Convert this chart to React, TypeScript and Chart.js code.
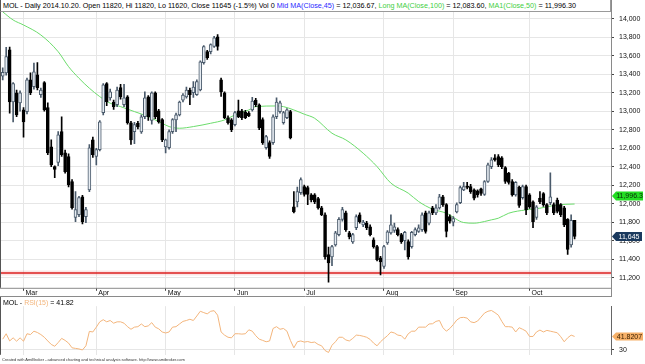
import React, { useEffect, useRef } from 'react';
import { Chart, registerables } from 'chart.js';

Chart.register(...registerables);

const FONT = '"Liberation Sans", Arial, sans-serif';

// ---- categories / ticks ----
const monthNames = ['Mar', 'Apr', 'May', 'Jun', 'Jul', 'Aug', 'Sep', 'Oct'];
const monthStartIndex = [6, 27, 47, 67, 87, 110, 130, 152];
const blankBarsRight = 10;
const priceTicks = [11200, 11400, 11600, 11800, 12000, 12200, 12400, 12600, 12800, 13000, 13200, 13400, 13600, 13800, 14000];
const rsiTicks = [30];

// ---- price series (daily OHLC) ----
const open = [
  13380, 13415, 13665, 13100, 13200, 13090, 13015, 12995, 13340, 13265,
  13395, 13180, 13310, 13040, 12615, 12400, 12445, 12780, 12550, 12510,
  12240, 11850, 11880, 12075, 11860, 12150, 12690, 12510, 12585, 12985,
  13300, 13145, 13100, 13070, 13255, 13070, 13155, 12875, 12780, 12870,
  12775, 12940, 13155, 12900, 13200, 13005, 12910, 12615, 12605, 12780,
  12906, 12960, 13120, 13155, 13230, 13200, 13180, 13230, 13525, 13645,
  13645, 13700, 13805, 13340, 13200, 12930, 12906, 12855, 13005, 13005,
  12990, 12980, 13015, 13120, 13070, 12910, 12605, 12660, 12660, 12940,
  12995, 12875, 12930, 12995, 11965, 12020, 12120, 12185, 12175, 12095,
  12095, 12055, 11955, 11880, 11450, 11425, 11555, 11665, 11830, 11900,
  11685, 11585, 11740, 11880, 11770, 11790, 11750, 11610, 11535, 11415,
  11320, 11575, 11685, 11710, 11720, 11665, 11600, 11590, 11535, 11665,
  11700, 11720, 11900, 11790, 11955, 11900, 11955, 12075, 11990, 11860,
  11800, 11910, 12010, 12150, 12190, 12185, 12150, 12140, 12160, 12100,
  12240, 12400, 12495, 12510, 12495, 12390, 12330, 12240, 12095, 12180,
  12065, 12185, 12095, 12020, 11850, 12060, 12110, 11990, 12010, 11990,
  12040, 11990, 11955, 11830, 11555, 11820,
];
const high = [
  13470, 13690, 13695, 13310, 13230, 13220, 13040, 13360, 13415, 13520,
  13525, 13250, 13320, 13090, 12690, 12410, 12780, 12940, 12580, 12540,
  12260, 12130, 12080, 12090, 11960, 12640, 12720, 12600, 12900, 13300,
  13310, 13240, 13120, 13260, 13290, 13290, 13170, 12890, 12880, 12890,
  12960, 13210, 13170, 13210, 13210, 13020, 12920, 12700, 12800, 12920,
  12980, 13110, 13190, 13260, 13250, 13320, 13340, 13545, 13710, 13660,
  13730, 13810, 13830, 13360, 13210, 12950, 12920, 13000, 13120, 13020,
  13010, 12995, 13150, 13140, 13080, 12930, 12740, 12680, 12960, 13145,
  13110, 13000, 13030, 13010, 12130, 12180, 12280, 12200, 12190, 12110,
  12110, 12070, 11970, 11900, 11530, 11550, 11700, 11850, 11960, 11920,
  11700, 11680, 11880, 11900, 11820, 11810, 11770, 11630, 11550, 11430,
  11550, 11710, 11880, 11790, 11740, 11680, 11700, 11610, 11700, 11740,
  11770, 11900, 11920, 11920, 11970, 11990, 12100, 12090, 12000, 11880,
  11860, 12010, 12190, 12230, 12230, 12210, 12160, 12150, 12170, 12250,
  12440, 12500, 12530, 12530, 12510, 12400, 12340, 12260, 12240, 12190,
  12200, 12200, 12110, 12030, 11980, 12130, 12120, 12000, 12335, 12010,
  12060, 12000, 11970, 11840, 11880, 11820,
];
const low = [
  13340, 13390, 12980, 12885, 12940, 13000, 12720, 12970, 13180, 13240,
  13230, 13150, 13000, 12530, 12400, 12280, 12410, 12510, 12330, 12180,
  11940, 11805, 11860, 11780, 11795, 12130, 12500, 12420, 12570, 12960,
  13060, 13120, 13020, 13050, 13130, 13050, 12860, 12640, 12650, 12810,
  12760, 12920, 12900, 12860, 12920, 12870, 12670, 12550, 12590, 12760,
  12780, 12950, 13100, 13140, 13070, 13150, 13170, 13220, 13510, 13560,
  13620, 13690, 13660, 13160, 12920, 12860, 12780, 12840, 12930, 12910,
  12920, 12940, 13000, 13050, 12800, 12640, 12590, 12490, 12640, 12920,
  12980, 12860, 12920, 12700, 11900, 11965, 12100, 12080, 11990, 12020,
  12000, 11940, 11870, 11400, 11150, 11330, 11540, 11650, 11810, 11700,
  11620, 11570, 11720, 11790, 11750, 11720, 11650, 11520, 11380, 11230,
  11300, 11560, 11670, 11690, 11650, 11570, 11500, 11400, 11520, 11650,
  11690, 11700, 11680, 11770, 11880, 11880, 11940, 11970, 11640, 11790,
  11760, 11900, 12000, 12140, 12160, 12110, 12040, 12070, 12090, 12090,
  12230, 12380, 12460, 12400, 12380, 12220, 12210, 12080, 12080, 11960,
  12050, 11880, 11950, 11740, 11830, 12000, 11970, 11880, 11990, 11880,
  11900, 11860, 11750, 11450, 11530, 11620,
];
const close = [
  13420, 13590, 13100, 13300, 12960, 13200, 12885, 13340, 13200, 13425,
  13255, 13230, 13015, 12550, 12420, 12370, 12745, 12530, 12345, 12205,
  11957, 11935, 12065, 11805, 11935, 12605, 12530, 12585, 12885, 13285,
  13100, 13210, 13050, 13230, 13155, 13145, 12875, 12690, 12855, 12830,
  12940, 13145, 12940, 13200, 12940, 12885, 12690, 12690, 12780, 12910,
  12960, 13100, 13176, 13230, 13180, 13260, 13320, 13535, 13700, 13580,
  13720, 13795, 13700, 13210, 12930, 12875, 12800, 12985, 12940, 12930,
  12930, 12950, 13110, 13070, 12820, 12660, 12725, 12510, 12940, 13100,
  13090, 12985, 13014, 12715, 11910, 12130, 12260, 12100, 12100, 12040,
  12020, 11955, 11880, 11425, 11360, 11535, 11685, 11830, 11935, 11720,
  11640, 11665, 11860, 11805, 11800, 11740, 11665, 11535, 11395, 11370,
  11535, 11695, 11770, 11750, 11665, 11590, 11690, 11425, 11690, 11720,
  11740, 11880, 11700, 11900, 11900, 11955, 12075, 11990, 11700, 11810,
  11840, 11990, 12175, 12185, 12175, 12130, 12060, 12095, 12110, 12240,
  12420, 12474, 12474, 12420, 12400, 12240, 12230, 12095, 12230, 11980,
  12185, 11935, 11965, 11805, 11965, 12020, 11987, 11900, 12075, 11900,
  11915, 11880, 11770, 11505, 11820, 11645,
];

// ---- MA1(Close,50), read at sampled bars ----
const maIndex = [0, 3, 6, 11, 16, 19, 22, 25, 28, 31, 34, 38, 42, 44, 46, 48, 51, 55, 60, 64, 67, 71, 73, 79, 81, 84, 87, 90, 95, 99, 104, 108, 112, 117, 120, 124, 128, 133, 136, 139, 141, 143, 146, 151, 155, 160, 165];
const maValue = [14075, 13987, 13933, 13825, 13644, 13482, 13357, 13249, 13158, 13087, 13050, 12996, 12942, 12906, 12870, 12834, 12816, 12834, 12870, 12906, 12960, 13014, 13050, 13057, 13050, 13014, 12968, 12924, 12762, 12690, 12546, 12401, 12222, 12114, 12023, 11941, 11897, 11796, 11789, 11807, 11825, 11843, 11897, 11933, 11951, 11987, 11996.3];

// ---- RSI(15) ----
const rsi = [
  39.4, 44.2, 37.8, 40.6, 37.6, 40.6, 37.6, 44.2, 43.5, 46.5,
  45.3, 43.5, 41.1, 37.8, 34.7, 33.1, 36.4, 40.1, 38.3, 35.9,
  31.7, 31.2, 30.7, 29.8, 33.5, 46.3, 45.8, 50.1, 54.8, 56.7,
  54.8, 56.0, 53.6, 54.8, 54.8, 53.6, 50.5, 48.2, 50.1, 50.5,
  52.9, 50.5, 51.2, 54.1, 50.1, 48.6, 45.8, 44.9, 45.8, 50.1,
  50.5, 52.9, 55.2, 56.0, 57.1, 56.0, 60.0, 64.2, 63.0, 61.9,
  64.2, 64.7, 60.7, 45.8, 43.0, 41.1, 40.6, 44.2, 44.2, 43.9,
  44.2, 47.7, 46.5, 42.5, 39.4, 38.3, 37.1, 37.8, 48.9, 50.5,
  48.2, 48.9, 46.5, 38.3, 31.7, 37.1, 37.8, 36.8, 37.3, 36.4,
  36.8, 34.7, 33.5, 29.3, 27.6, 34.0, 37.1, 41.1, 41.1, 38.7,
  37.8, 40.1, 43.0, 42.7, 42.0, 41.1, 39.2, 35.9, 33.5, 37.1,
  39.9, 42.5, 45.8, 44.9, 43.0, 42.5, 39.4, 44.2, 46.5, 46.5,
  50.1, 50.1, 50.1, 52.9, 53.1, 55.2, 56.0, 49.6, 46.5, 48.9,
  52.4, 56.4, 58.5, 58.8, 58.1, 54.8, 54.1, 55.5, 59.0, 62.6,
  64.2, 64.9, 63.0, 60.7, 55.2, 50.5, 50.5, 50.1, 45.8, 49.6,
  48.2, 46.5, 41.8, 41.8, 45.8, 47.5, 45.8, 47.2, 46.5, 45.8,
  45.1, 41.6, 37.1, 40.6, 43.0, 41.82,
];

// ---- header values ----
const supportLevel = 11250;
const midMaLast = 12036.67;
const longMaLast = 12083.6;
const ma1Last = 11996.3;
const rsiLastText = '41.8207';

const labels = Array.from({ length: open.length + blankBarsRight }, (_, i) => String(i));
const monthLabelAt: Record<number, string> = {};
monthStartIndex.forEach((ix, k) => { monthLabelAt[ix] = monthNames[k]; });
const isMonth = (i: number) => monthLabelAt[i] !== undefined;

const UP_EDGE = '#4a5a6b';
const UP_FILL = '#e6ecf2';
const DOWN = '#000000';
const MA_GREEN = '#6cdc6c';
const RSI_ORANGE = '#f3b57c';
const GRID = '#e6e6e6';

function drawBadge(ctx: CanvasRenderingContext2D, x: number, y: number, right: number, h: number, text: string, fill: string, color: string) {
  ctx.save();
  ctx.beginPath();
  ctx.moveTo(x, y);
  ctx.lineTo(x + 4, y - h / 2);
  ctx.lineTo(right, y - h / 2);
  ctx.lineTo(right, y + h / 2);
  ctx.lineTo(x + 4, y + h / 2);
  ctx.closePath();
  ctx.fillStyle = fill;
  ctx.fill();
  ctx.fillStyle = color;
  ctx.font = `7px ${FONT}`;
  ctx.textAlign = 'center';
  ctx.textBaseline = 'middle';
  ctx.fillText(text, (x + 4 + right) / 2, y + 0.5);
  ctx.restore();
}

const fmt = (v: number, d = 0) => v.toLocaleString('en-US', { minimumFractionDigits: d, maximumFractionDigits: d });

const mainDecor = {
  id: 'mainDecor',
  beforeDatasetsDraw(chart: any) {
    const { ctx, chartArea } = chart;
    const y = Math.round(chart.scales.y.getPixelForValue(supportLevel));
    ctx.save();
    ctx.strokeStyle = 'rgba(230,80,80,0.15)';
    ctx.lineWidth = 5;
    ctx.beginPath(); ctx.moveTo(chartArea.left, y); ctx.lineTo(chartArea.right, y); ctx.stroke();
    ctx.strokeStyle = '#dd1f1f';
    ctx.lineWidth = 1.6;
    ctx.beginPath(); ctx.moveTo(chartArea.left, y); ctx.lineTo(chartArea.right, y); ctx.stroke();
    ctx.restore();
  },
  afterDraw(chart: any) {
    const { ctx, chartArea } = chart;
    ctx.save();
    ctx.strokeStyle = '#8a8a8a';
    ctx.lineWidth = 1;
    ctx.beginPath();
    ctx.moveTo(0, chartArea.bottom + 0.5); ctx.lineTo(chartArea.right, chartArea.bottom + 0.5);
    ctx.moveTo(0, chart.height - 0.5); ctx.lineTo(chartArea.right, chart.height - 0.5);
    ctx.moveTo(chartArea.right + 0.5, 0); ctx.lineTo(chartArea.right + 0.5, chart.height);
    ctx.stroke();
    ctx.strokeStyle = '#555';
    ctx.beginPath(); ctx.moveTo(0.5, 0); ctx.lineTo(0.5, chartArea.bottom); ctx.stroke();
    ctx.restore();
    const ys = chart.scales.y;
    drawBadge(ctx, chartArea.right + 1, ys.getPixelForValue(longMaLast), 643, 9, fmt(ma1Last, 1), '#22dd22', '#0a2a0a');
    drawBadge(ctx, chartArea.right + 1, ys.getPixelForValue(close[close.length - 1]), 642, 9, fmt(close[close.length - 1]), '#1b3a5e', '#ffffff');
  },
};

const rsiDecor = {
  id: 'rsiDecor',
  afterDraw(chart: any) {
    const { ctx, chartArea } = chart;
    ctx.save();
    ctx.strokeStyle = '#555';
    ctx.lineWidth = 1;
    ctx.beginPath(); ctx.moveTo(0.5, 0); ctx.lineTo(0.5, chartArea.bottom); ctx.stroke();
    ctx.restore();
    const ys = chart.scales.y;
    drawBadge(ctx, chartArea.right + 1, ys.getPixelForValue(rsi[rsi.length - 1]), 643, 8, rsiLastText, '#f6b068', '#3a2000');
  },
};

export default function App() {
  const mainRef = useRef<HTMLCanvasElement>(null);
  const rsiRef = useRef<HTMLCanvasElement>(null);

  useEffect(() => {
    const up = close.map((c, i) => c >= open[i]);
    const xGrid = {
      offset: false,
      color: (c: any) => (isMonth(c.index) ? GRID : 'rgba(0,0,0,0)'),
      tickColor: (c: any) => (isMonth(c.index) ? '#444' : 'rgba(0,0,0,0)'),
      tickLength: 3,
    };
    const main = new Chart(mainRef.current!, {
      type: 'bar',
      data: {
        labels,
        datasets: [
          {
            type: 'line',
            data: maIndex.map((ix, k) => ({ x: labels[ix], y: maValue[k] })) as any,
            borderColor: MA_GREEN,
            borderWidth: 1,
            pointRadius: 0,
            cubicInterpolationMode: 'monotone',
            order: 3,
          } as any,
          {
            type: 'bar',
            data: low.map((l, i) => [l, high[i]]) as any,
            backgroundColor: up.map((u) => (u ? UP_EDGE : DOWN)),
            barThickness: 1,
            grouped: false,
            order: 2,
          } as any,
          {
            type: 'bar',
            data: open.map((o, i) => [o, close[i]]) as any,
            backgroundColor: up.map((u) => (u ? UP_FILL : DOWN)),
            borderColor: up.map((u) => (u ? UP_EDGE : DOWN)),
            borderWidth: 1,
            borderSkipped: false,
            barThickness: 3,
            grouped: false,
            order: 1,
          } as any,
        ],
      },
      options: {
        responsive: false,
        devicePixelRatio: 1,
        animation: false,
        layout: { padding: { left: 1, top: 12, right: 0, bottom: 0 } },
        plugins: { legend: { display: false }, tooltip: { enabled: false } },
        scales: {
          x: {
            type: 'category',
            offset: true,
            grid: xGrid as any,
            border: { display: false },
            ticks: {
              autoSkip: false,
              maxRotation: 0,
              minRotation: 0,
              align: 'start',
              labelOffset: 2,
              padding: -2,
              color: '#111',
              font: { family: FONT, size: 7 },
              callback: (_v: any, i: number) => monthLabelAt[i] ?? '',
            },
            afterFit: (s: any) => { s.height = 9; },
          },
          y: {
            position: 'right',
            min: 11090,
            max: 14073.5,
            afterBuildTicks: (s: any) => { s.ticks = priceTicks.map((v) => ({ value: v })); },
            grid: { color: GRID, tickColor: '#444', tickLength: 3 },
            border: { display: true, color: '#666' },
            ticks: {
              padding: 5,
              color: '#111',
              font: { family: FONT, size: 7 },
              callback: (v: any) => fmt(Number(v)),
            },
            afterFit: (s: any) => { s.width = 34; },
          },
        },
      },
      plugins: [mainDecor],
    });

    const rsiChart = new Chart(rsiRef.current!, {
      type: 'line',
      data: {
        labels,
        datasets: [
          {
            data: rsi,
            borderColor: RSI_ORANGE,
            borderWidth: 1,
            pointRadius: 0,
            tension: 0,
          },
        ],
      },
      options: {
        responsive: false,
        devicePixelRatio: 1,
        animation: false,
        layout: { padding: { left: 1, top: 0, right: 0, bottom: 6 } },
        plugins: { legend: { display: false }, tooltip: { enabled: false } },
        scales: {
          x: {
            type: 'category',
            offset: true,
            grid: { offset: false, drawTicks: false, color: (c: any) => (isMonth(c.index) ? GRID : 'rgba(0,0,0,0)') } as any,
            border: { display: false },
            ticks: { display: false, autoSkip: false },
            afterFit: (s: any) => { s.height = 0; },
          },
          y: {
            position: 'right',
            min: 25.5,
            max: 68.7,
            afterBuildTicks: (s: any) => { s.ticks = rsiTicks.map((v) => ({ value: v })); },
            grid: { color: GRID, tickColor: '#444', tickLength: 3 },
            border: { display: true, color: '#666' },
            ticks: { padding: 5, color: '#111', font: { family: FONT, size: 7 } },
            afterFit: (s: any) => { s.width = 34; },
          },
        },
      },
      plugins: [rsiDecor],
    });

    return () => {
      main.destroy();
      rsiChart.destroy();
    };
  }, []);

  const headerStyle: React.CSSProperties = {
    position: 'absolute', left: 0, top: 0, width: 611, height: 12, boxSizing: 'border-box',
    background: '#fff', borderBottom: '1px solid #9a9a9a', borderRight: '1px solid #9a9a9a', borderLeft: '1px solid #555',
    font: `7.2px ${FONT}`, lineHeight: '11px', whiteSpace: 'nowrap', paddingLeft: 2, color: '#000', overflow: 'hidden',
  };

  return (
    <div style={{ position: 'fixed', left: 0, top: 0, width: 645, height: 364, background: '#fff', overflow: 'hidden', fontFamily: FONT }}>
      <canvas ref={mainRef} width={645} height={297} style={{ position: 'absolute', left: 0, top: 0, width: 645, height: 297 }} />
      <canvas ref={rsiRef} width={645} height={67} style={{ position: 'absolute', left: 0, top: 297, width: 645, height: 67 }} />
      <div style={headerStyle}>
        MOL - Daily 2014.10.20. Open 11820, Hi 11820, Lo 11620, Close 11645 (-1.5%) Vol 0{' '}
        <span style={{ color: '#2a2aff' }}>Mid MA(Close,45)</span> = {fmt(midMaLast, 2)},{' '}
        <span style={{ color: '#3fcf3f' }}>Long MA(Close,100)</span> = {fmt(longMaLast, 2)},{' '}
        <span style={{ color: '#3fcf3f' }}>MA1(Close,50)</span> = {fmt(ma1Last, 2)}
      </div>
      <div style={{ position: 'absolute', left: 3, top: 298, font: `7px ${FONT}`, lineHeight: '9px', color: '#000', whiteSpace: 'nowrap' }}>
        MOL - <span style={{ color: RSI_ORANGE }}>RSI(15)</span> = 41.82
      </div>
      <div style={{ position: 'absolute', left: 2, top: 357, font: `4px ${FONT}`, lineHeight: '6px', color: '#333', whiteSpace: 'nowrap' }}>
        Created with AmiBroker - advanced charting and technical analysis software. http://www.amibroker.com
      </div>
    </div>
  );
}
